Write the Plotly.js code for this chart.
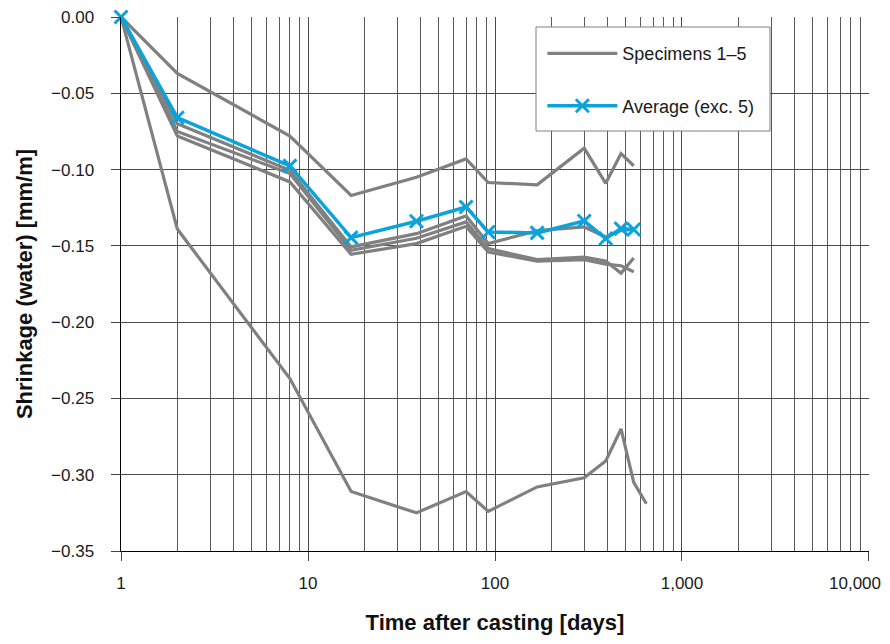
<!DOCTYPE html>
<html>
<head>
<meta charset="utf-8">
<script src="https://cdn.plot.ly/plotly-3.0.1.min.js"></script>
<style>html,body{margin:0;padding:0;background:#fff;}#chart{width:890px;height:644px;}</style>
</head>
<body>
<div id="chart"></div>
<script>
// Time after casting [days]
const days = [1, 2, 8, 17, 38, 70, 92, 168, 300, 391, 472, 552];
const days5 = [1, 2, 8, 17, 38, 70, 92, 168, 300, 391, 472, 552, 645];
// Shrinkage (water) [mm/m]
const spec1 = [0, -0.037, -0.078, -0.117, -0.105, -0.093, -0.1085, -0.110, -0.086, -0.109, -0.0895, -0.0975];
const spec2 = [0, -0.070, -0.1005, -0.1507, -0.142, -0.1304, -0.1485, -0.140, -0.1376, -0.1442, -0.140, -0.139];
const spec3 = [0, -0.075, -0.1026, -0.1529, -0.145, -0.1343, -0.1518, -0.159, -0.1573, -0.160, -0.168, -0.158];
const spec4 = [0, -0.078, -0.1081, -0.1555, -0.1485, -0.1372, -0.154, -0.160, -0.159, -0.162, -0.163, -0.167];
const spec5 = [0, -0.139, -0.237, -0.311, -0.325, -0.311, -0.324, -0.308, -0.302, -0.291, -0.270, -0.305, -0.319];
const average = [0, -0.066, -0.0976, -0.1446, -0.1339, -0.1245, -0.1409, -0.1415, -0.1337, -0.1452, -0.1387, -0.1393];

const xTickVals = [1, 10, 100, 1000, 10000];
const xTickText = ['1', '10', '100', '1,000', '10,000'];
const specNames = ['Specimens 1–5', 'Average (exc. 5)'];

const gray = '#808080';
const blue = '#0aa3db';
const specSeries = [[days, spec1], [days, spec2], [days, spec3], [days, spec4], [days5, spec5]];

const traces = specSeries.map((s, i) => ({
  x: s[0], y: s[1], type: 'scatter', mode: 'lines',
  line: {color: gray, width: 3.2},
  name: specNames[0], legendgroup: 'spec', showlegend: i === 0,
  cliponaxis: false, hoverinfo: 'skip'
}));
traces.push({
  x: days, y: average, type: 'scatter', mode: 'lines+markers',
  line: {color: blue, width: 3.5},
  marker: {symbol: 'x-thin-open', size: 13, color: blue, line: {color: blue, width: 3}},
  name: specNames[1], legendgroup: 'avg', cliponaxis: false
});

const minorVals = [];
for (let d = 1; d < 10000; d *= 10) for (let k = 2; k <= 9; k++) minorVals.push(d * k);

const font = 'Liberation Sans, Arial, sans-serif';
const last = xTickVals.length - 1;
// the last tick label sits shifted left so it stays inside the figure, as in the reference
const tickTextShown = xTickText.map((t, i) => (i === last ? '' : t));

const layout = {
  width: 890, height: 644,
  margin: {l: 121, r: 21, t: 17, b: 93},
  paper_bgcolor: '#fff', plot_bgcolor: '#fff',
  font: {family: font, size: 17, color: '#1a1a1a'},
  showlegend: true,
  xaxis: {
    type: 'log', range: [-0.0002, 4.0002],
    tickmode: 'array', tickvals: xTickVals, ticktext: tickTextShown,
    ticks: 'outside', ticklen: 9, tickcolor: '#444', tickwidth: 1,
    showgrid: true, gridcolor: '#4a4a4a', gridwidth: 1,
    minor: {tickmode: 'array', tickvals: minorVals, showgrid: true, gridcolor: '#5a5a5a', gridwidth: 1, ticks: ''},
    showline: true, linecolor: '#000', linewidth: 1,
    zeroline: false, ticklabelstandoff: 8,
    tickfont: {size: 17, family: font},
    title: {text: 'Time after casting [days]', font: {size: 22, family: font, weight: 'bold', color: '#111'}, standoff: 22}
  },
  yaxis: {
    range: [-0.35, 0], dtick: 0.05, tick0: 0, tickformat: '.2f',
    ticks: 'outside', ticklen: 9, tickcolor: '#444', tickwidth: 1,
    showgrid: true, gridcolor: '#4a4a4a', gridwidth: 1,
    showline: true, linecolor: '#000', linewidth: 1.5,
    zeroline: false, ticklabelstandoff: 13,
    tickfont: {size: 17, family: font},
    title: {text: 'Shrinkage (water) [mm/m]', font: {size: 22, family: font, weight: 'bold', color: '#111'}, standoff: 12}
  },
  legend: {
    x: 0.5633, xanchor: 'left', y: 0.966, yanchor: 'top',
    bgcolor: 'rgba(0,0,0,0)', borderwidth: 0,
    font: {size: 18, family: font, color: '#1a1a1a'},
    traceorder: 'grouped', tracegroupgap: 26, itemwidth: 70
  },
  annotations: [{
    x: Math.log10(xTickVals[last]), xref: 'x', y: -0.0605, yref: 'paper',
    text: xTickText[last], showarrow: false, xanchor: 'center', yanchor: 'middle',
    xshift: -14, font: {size: 17, family: font, color: '#1a1a1a'}
  }],
  shapes: [{
    type: 'rect', xref: 'paper', yref: 'paper', layer: 'above',
    x0: (536 - 121) / 748, x1: (770 - 121) / 748,
    y0: (551 - 131) / 534, y1: (551 - 27) / 534,
    fillcolor: '#fff', line: {color: '#808080', width: 1}
  }]
};

Plotly.newPlot('chart', traces, layout, {displayModeBar: false, staticPlot: true});
</script>
</body>
</html>
